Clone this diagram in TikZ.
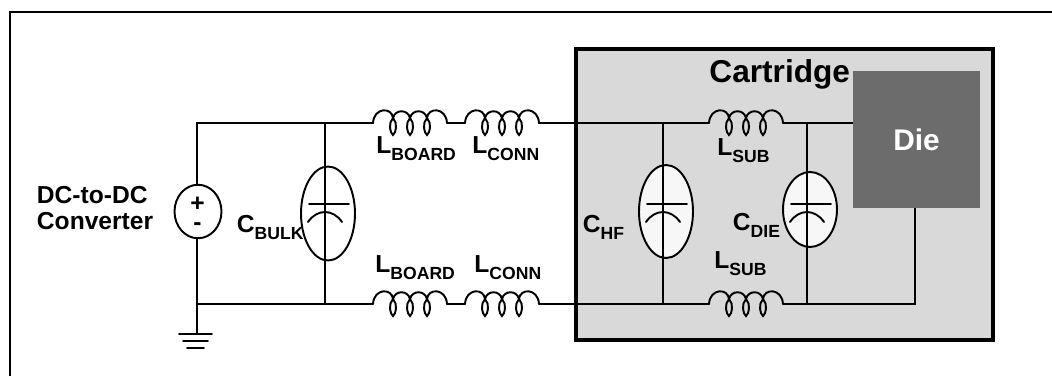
\documentclass[tikz,border=0pt]{standalone}
\usepackage{fontspec}
\setmainfont{Liberation Sans}
\usepackage{tikz}
\usetikzlibrary{shapes.geometric,calc}
\definecolor{cartgray}{HTML}{D9D9D9}
\definecolor{diegray}{HTML}{6C6C6C}
\definecolor{capfill}{HTML}{F7F7F7}
\newcommand{\subl}[2]{#1\raisebox{-4.5pt}{\fontsize{10}{10}\selectfont #2}}
\tikzset{
  pics/coil/.style={code={
    \draw (0,0) .. controls (1,-16) and (19,-16) .. (20,-5);
    \foreach \i in {20,37} {\draw (\i,-5) .. controls (\i+2,-14) and (\i+15,-14) .. (\i+17,-5);}
    \draw (54,-5) .. controls (55,-16) and (73,-16) .. (74,0);
    \foreach \i in {20,37,54} {\draw (\i,-5) .. controls (\i+5,0) and (\i+3,10) .. (\i,12) .. controls (\i-3,10) and (\i-5,0) .. (\i,-5);}
  }}
}
\begin{document}
\begin{tikzpicture}[x=0.02cm,y=-0.02cm,line width=1.1pt,line cap=round,
  lbl/.style={anchor=base west,inner sep=0pt,font=\fontsize{14}{14}\bfseries},
  capel/.style={draw,ellipse,inner sep=0pt,minimum width=1.08cm}]
\useasboundingbox (0,0) rectangle (1052,376);
\draw[line width=1.2pt,line cap=butt] (10,376) -- (10,12) -- (1052,12);
% cartridge
\draw[line width=2.8pt,fill=cartgray] (576,49) rectangle (993,340);
\node[anchor=base east,inner sep=0pt,font=\fontsize{18}{18}\bfseries] (cart) at (851,82) {Cartridge};
% source
\node[draw,ellipse,inner sep=0pt,minimum width=0.94cm,minimum height=1.07cm] (src) at (198,211.5) {};
\node[anchor=north,align=center,inner sep=0pt,font=\fontsize{14}{10.6}\bfseries] (pm) at (197.5,196.6) {+\\-};
\node[anchor=west,align=left,inner sep=0pt,font=\fontsize{14}{14.7}\bfseries] (conv) at (36,208) {DC-to-DC\\Converter};
% points
\coordinate (nT0) at (197,123);
\coordinate (nB0) at (197,304);
\coordinate (gnd) at (197,334);
\coordinate (lb1) at (373,123);
\coordinate (lc1) at (465,123);
\coordinate (ls1) at (709,123);
\coordinate (lb2) at (373,304);
\coordinate (lc2) at (465,304);
\coordinate (ls2) at (709,304);
\coordinate (dieT) at (853,123);
\coordinate (nB9) at (915,304);
% wires
\draw (src.north -| nT0) -- (nT0) -- (lb1);
\draw ($(lb1)+(74,0)$) -- (lc1);
\draw ($(lc1)+(74,0)$) -- (ls1);
\draw ($(ls1)+(74,0)$) -- (dieT);
\draw (src.south -| gnd) -- (gnd);
\draw (nB0) -- (lb2);
\draw ($(lb2)+(74,0)$) -- (lc2);
\draw ($(lc2)+(74,0)$) -- (ls2);
\draw ($(ls2)+(74,0)$) -- (nB9) -- (915,200);
\draw (179,334) -- (212,334);
\draw (183,341) -- (208,341);
\draw (187,348) -- (204,348);
% inductors
\foreach \p in {lb1,lc1,ls1,lb2,lc2,ls2} \pic at (\p) {coil};
% capacitors
\node[capel,fill=white,minimum height=1.88cm] (cb) at (328,213.5) {};
\node[capel,fill=capfill,minimum height=1.86cm] (chf) at (666,211.5) {};
\node[capel,fill=capfill,minimum height=1.5cm] (cdie) at (810,209.5) {};
\foreach \x in {325,663,807} {
  \draw (\x,123) -- (\x,304);
  \draw (\x-16,204) -- (\x+24,204);
  \draw (\x-17,222) .. controls (\x-8,208.7) and (\x+8,208.7) .. (\x+17,222);
}
% die
\node[fill=diegray,inner sep=0pt,minimum width=2.54cm,minimum height=2.74cm,
  text=white,font=\fontsize{17}{17}\bfseries] (die) at (916.5,139.5) {Die};
% labels
\node[lbl] (tLB1) at (375.5,153) {\subl{L}{BOARD}};
\node[lbl] (tLC1) at (471.5,153) {\subl{L}{CONN}};
\node[lbl] (tLB2) at (374.5,272) {\subl{L}{BOARD}};
\node[lbl] (tLC2) at (473.5,272) {\subl{L}{CONN}};
\node[lbl] (tCB) at (236,232) {\subl{C}{BULK}};
\node[lbl] (tCHF) at (582,232) {\subl{C}{HF}};
\node[lbl] (tCD) at (732,230) {\subl{C}{DIE}};
\node[lbl] (tLS1) at (716.5,155) {\subl{L}{SUB}};
\node[lbl] (tLS2) at (713.5,268) {\subl{L}{SUB}};
\end{tikzpicture}
\end{document}
